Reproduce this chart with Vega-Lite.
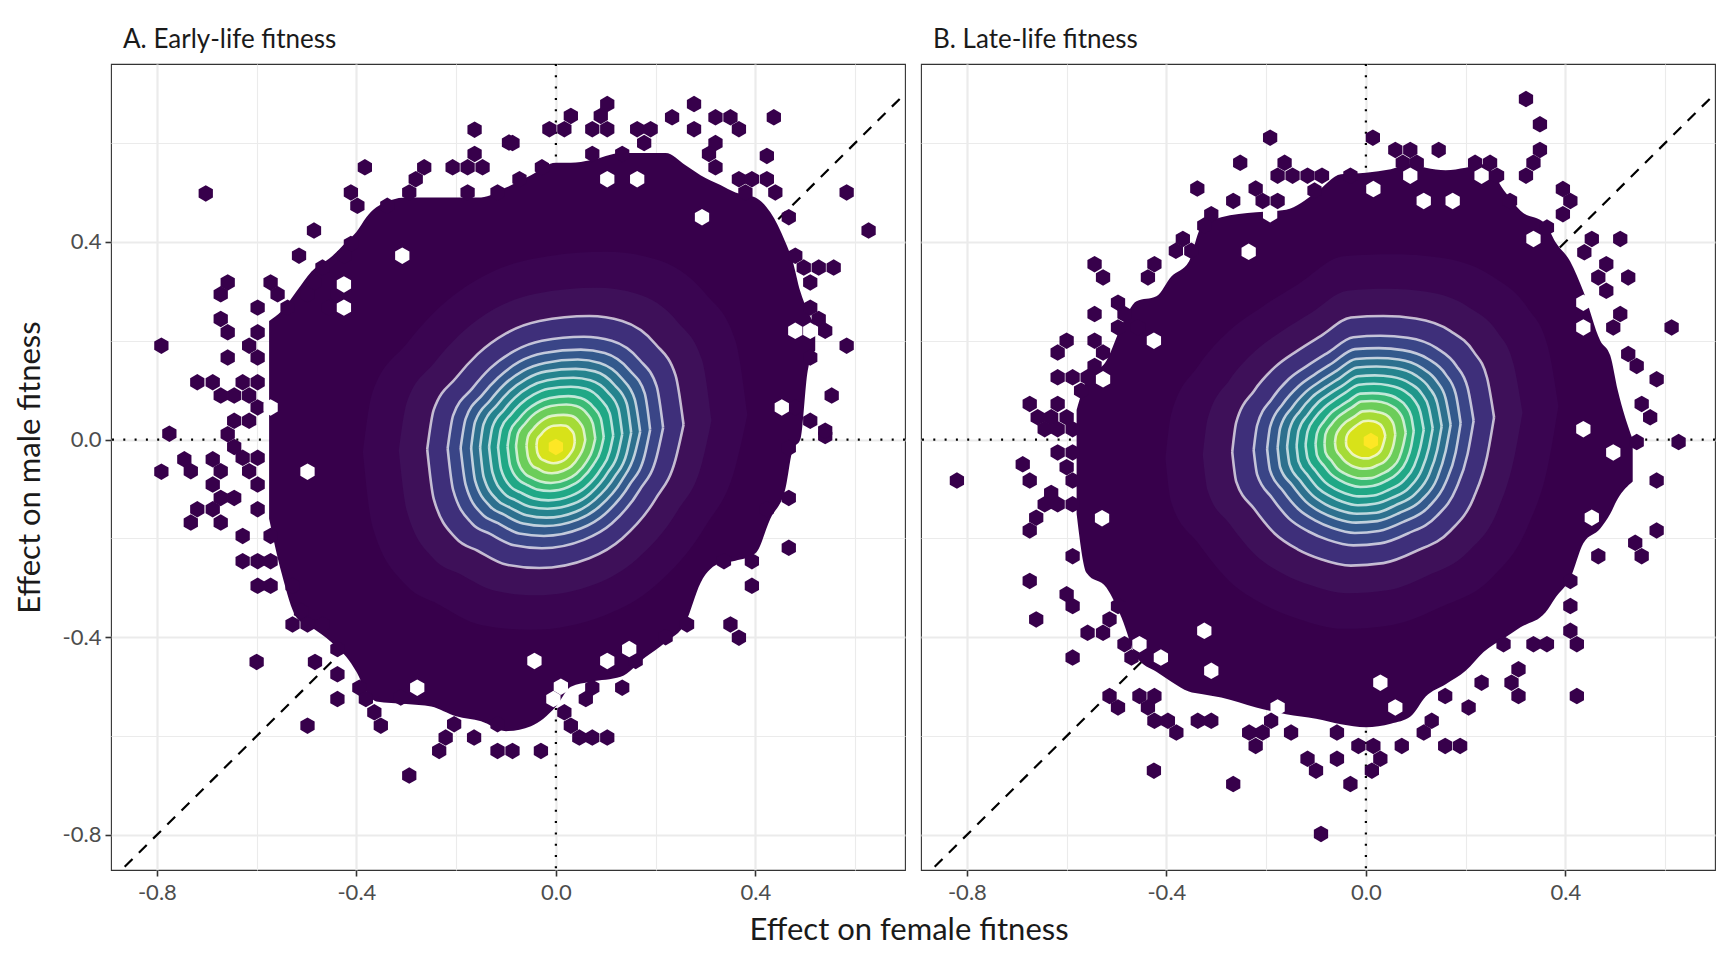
{
  "$schema": "https://vega.github.io/schema/vega-lite/v6.json",
  "background": "white",
  "padding": {"left": 13, "top": 26, "right": 13, "bottom": 5},
  "spacing": 12,
  "config": {
    "font": "Lato",
    "view": {"stroke": "#333333", "strokeWidth": 1.1},
    "title": {"font": "Lato", "fontSize": 26, "fontWeight": "normal", "color": "#1a1a1a"},
    "axis": {
      "domain": false,
      "grid": true,
      "tickCount": 8,
      "gridColor": "#ebebeb",
      "gridWidth": {"condition": {"test": "abs(round(datum.value * 10)) % 4 === 0", "value": 2.2}, "value": 1.1},
      "tickColor": "#333333",
      "tickOpacity": {"condition": {"test": "abs(round(datum.value * 10)) % 4 === 0", "value": 1}, "value": 0},
      "tickSize": 6,
      "tickWidth": 1.6,
      "labelExpr": "abs(round(datum.value * 10)) % 4 === 0 ? (datum.value < 0 ? '-' : '') + format(abs(datum.value), '.1f') : ''",
      "labelFont": "Lato",
      "labelFontSize": 22,
      "labelColor": "#4d4d4d",
      "labelPadding": 4,
      "titleFont": "Lato",
      "titleFontSize": 31,
      "titleFontWeight": "normal",
      "titleColor": "#1a1a1a",
      "titlePadding": 16
    },
    "axisX": {"labelPadding": 6}
  },
  "datasets": {
    "zero": [{"v": 0}],
    "diagonal": [{"from": -0.95, "to": 0.8}],
    "levels": [
      {"p": "A", "k": 0,
       "x": [-0.575,-0.55,-0.52,-0.49,-0.45,-0.42,-0.40,-0.38,-0.36,-0.30,-0.25,-0.20,-0.15,-0.10,-0.05,0.0,0.03,0.07,0.13,0.18,0.22,0.26,0.29,0.33,0.36,0.40,0.43,0.46,0.475,0.49,0.505,0.52],
       "lo": [-0.16,-0.27,-0.36,-0.38,-0.41,-0.44,-0.47,-0.51,-0.53,-0.535,-0.54,-0.56,-0.57,-0.59,-0.58,-0.54,-0.50,-0.49,-0.48,-0.44,-0.41,-0.37,-0.29,-0.25,-0.245,-0.23,-0.16,-0.10,-0.02,0.0,0.14,0.18],
       "hi": [0.24,0.26,0.30,0.34,0.37,0.40,0.42,0.45,0.47,0.49,0.49,0.49,0.49,0.51,0.535,0.56,0.56,0.565,0.58,0.58,0.58,0.555,0.535,0.515,0.50,0.49,0.46,0.40,0.36,0.30,0.26,0.23]},
      {"p": "A", "k": 1,
       "x": [-0.387,-0.368,-0.30,-0.236,-0.15,-0.05,0.10,0.20,0.30,0.36,0.384],
       "lo": [-0.025,-0.175,-0.295,-0.333,-0.375,-0.385,-0.355,-0.295,-0.175,-0.055,0.05],
       "hi": [-0.025,0.095,0.193,0.265,0.328,0.365,0.38,0.365,0.295,0.20,0.05]},
      {"p": "A", "k": 2,
       "x": [-0.315,-0.299,-0.244,-0.192,-0.122,-0.04,0.082,0.162,0.244,0.293,0.312],
       "lo": [-0.022,-0.144,-0.242,-0.272,-0.306,-0.315,-0.291,-0.242,-0.144,-0.047,0.039],
       "hi": [-0.022,0.075,0.155,0.213,0.265,0.295,0.307,0.295,0.238,0.161,0.039]},
      {"p": "A", "k": 3,
       "x": [-0.258,-0.245,-0.20,-0.157,-0.10,-0.033,0.067,0.133,0.20,0.24,0.256],
       "lo": [-0.02,-0.12,-0.20,-0.225,-0.253,-0.26,-0.24,-0.20,-0.12,-0.04,0.03],
       "hi": [-0.02,0.06,0.125,0.173,0.215,0.24,0.25,0.24,0.193,0.13,0.03]},
      {"p": "A", "k": 4,
       "x": [-0.217,-0.206,-0.168,-0.132,-0.084,-0.028,0.056,0.112,0.168,0.202,0.215],
       "lo": [-0.018,-0.102,-0.170,-0.191,-0.214,-0.22,-0.203,-0.170,-0.102,-0.035,0.024],
       "hi": [-0.018,0.049,0.103,0.144,0.179,0.20,0.208,0.20,0.161,0.108,0.024]},
      {"p": "A", "k": 5,
       "x": [-0.191,-0.181,-0.148,-0.116,-0.074,-0.024,0.050,0.098,0.148,0.178,0.189],
       "lo": [-0.017,-0.091,-0.151,-0.169,-0.190,-0.195,-0.180,-0.151,-0.091,-0.032,0.020],
       "hi": [-0.017,0.042,0.090,0.125,0.157,0.175,0.182,0.175,0.140,0.094,0.020]},
      {"p": "A", "k": 6,
       "x": [-0.170,-0.162,-0.132,-0.104,-0.066,-0.022,0.044,0.088,0.132,0.158,0.169],
       "lo": [-0.017,-0.083,-0.135,-0.152,-0.170,-0.175,-0.162,-0.135,-0.083,-0.030,0.016],
       "hi": [-0.017,0.036,0.079,0.111,0.139,0.155,0.162,0.155,0.124,0.082,0.016]},
      {"p": "A", "k": 7,
       "x": [-0.152,-0.145,-0.118,-0.093,-0.059,-0.019,0.040,0.078,0.118,0.142,0.151],
       "lo": [-0.016,-0.075,-0.122,-0.137,-0.153,-0.158,-0.146,-0.122,-0.075,-0.028,0.014],
       "hi": [-0.016,0.031,0.070,0.098,0.123,0.138,0.143,0.138,0.110,0.073,0.014]},
      {"p": "A", "k": 8,
       "x": [-0.134,-0.127,-0.104,-0.082,-0.052,-0.017,0.035,0.069,0.104,0.125,0.133],
       "lo": [-0.015,-0.067,-0.109,-0.122,-0.136,-0.140,-0.130,-0.109,-0.067,-0.026,0.011],
       "hi": [-0.015,0.026,0.060,0.085,0.107,0.120,0.125,0.120,0.096,0.063,0.011]},
      {"p": "A", "k": 9,
       "x": [-0.116,-0.110,-0.090,-0.071,-0.045,-0.015,0.030,0.060,0.090,0.108,0.115],
       "lo": [-0.015,-0.060,-0.096,-0.107,-0.119,-0.123,-0.114,-0.096,-0.060,-0.024,0.008],
       "hi": [-0.015,0.022,0.051,0.072,0.091,0.103,0.107,0.103,0.081,0.053,0.008]},
      {"p": "A", "k": 10,
       "x": [-0.097,-0.092,-0.075,-0.059,-0.038,-0.012,0.025,0.050,0.075,0.090,0.096],
       "lo": [-0.014,-0.051,-0.081,-0.091,-0.101,-0.104,-0.096,-0.081,-0.051,-0.021,0.005],
       "hi": [-0.014,0.016,0.041,0.059,0.074,0.084,0.088,0.084,0.066,0.043,0.005]},
      {"p": "A", "k": 11,
       "x": [-0.080,-0.076,-0.062,-0.049,-0.031,-0.010,0.021,0.041,0.062,0.074,0.079],
       "lo": [-0.013,-0.044,-0.069,-0.077,-0.085,-0.088,-0.081,-0.069,-0.044,-0.019,0.002],
       "hi": [-0.013,0.012,0.032,0.047,0.060,0.068,0.071,0.068,0.053,0.033,0.002]},
      {"p": "A", "k": 12,
       "x": [-0.059,-0.056,-0.046,-0.036,-0.023,-0.008,0.015,0.031,0.046,0.055,0.059],
       "lo": [-0.012,-0.035,-0.054,-0.059,-0.066,-0.068,-0.063,-0.054,-0.035,-0.017,-0.001],
       "hi": [-0.012,0.006,0.021,0.032,0.042,0.048,0.050,0.048,0.037,0.022,-0.001]},
      {"p": "A", "k": 13,
       "x": [-0.039,-0.037,-0.030,-0.024,-0.015,-0.005,0.010,0.020,0.030,0.036,0.038],
       "lo": [-0.012,-0.027,-0.039,-0.042,-0.046,-0.048,-0.045,-0.039,-0.027,-0.015,-0.004],
       "hi": [-0.012,0.001,0.010,0.017,0.024,0.028,0.029,0.028,0.020,0.011,-0.004]},
      {"p": "B", "k": 0,
       "x": [-0.58,-0.56,-0.52,-0.49,-0.46,-0.42,-0.39,-0.355,-0.33,-0.29,-0.22,-0.16,-0.10,-0.05,0.0,0.05,0.09,0.12,0.16,0.20,0.236,0.28,0.31,0.36,0.38,0.41,0.436,0.47,0.49,0.505,0.535],
       "lo": [-0.15,-0.27,-0.30,-0.36,-0.44,-0.47,-0.49,-0.51,-0.515,-0.522,-0.542,-0.556,-0.565,-0.576,-0.582,-0.575,-0.56,-0.52,-0.495,-0.468,-0.43,-0.40,-0.38,-0.35,-0.32,-0.28,-0.21,-0.18,-0.15,-0.12,-0.085],
       "hi": [0.06,0.12,0.16,0.23,0.28,0.29,0.33,0.36,0.43,0.45,0.46,0.465,0.50,0.537,0.54,0.547,0.557,0.55,0.545,0.55,0.557,0.50,0.463,0.436,0.40,0.36,0.30,0.20,0.17,0.10,0.0]},
      {"p": "B", "k": 1,
       "x": [-0.402,-0.39,-0.336,-0.275,-0.206,-0.135,-0.045,0.053,0.15,0.254,0.324,0.365,0.386],
       "lo": [-0.038,-0.128,-0.21,-0.285,-0.333,-0.363,-0.383,-0.375,-0.339,-0.278,-0.177,-0.053,0.068],
       "hi": [-0.038,0.053,0.149,0.219,0.27,0.315,0.371,0.375,0.368,0.33,0.267,0.188,0.068]},
      {"p": "B", "k": 2,
       "x": [-0.327,-0.317,-0.273,-0.223,-0.167,-0.110,-0.037,0.043,0.122,0.206,0.264,0.296,0.314],
       "lo": [-0.031,-0.104,-0.171,-0.232,-0.271,-0.295,-0.311,-0.305,-0.276,-0.226,-0.144,-0.043,0.055],
       "hi": [-0.031,0.043,0.121,0.178,0.220,0.256,0.301,0.305,0.299,0.268,0.217,0.153,0.055]},
      {"p": "B", "k": 3,
       "x": [-0.268,-0.26,-0.224,-0.183,-0.137,-0.09,-0.03,0.035,0.10,0.169,0.216,0.243,0.257],
       "lo": [-0.025,-0.085,-0.14,-0.19,-0.222,-0.242,-0.255,-0.25,-0.226,-0.185,-0.118,-0.035,0.045],
       "hi": [-0.025,0.035,0.099,0.146,0.18,0.21,0.247,0.25,0.245,0.22,0.178,0.125,0.045]},
      {"p": "B", "k": 4,
       "x": [-0.225,-0.218,-0.188,-0.154,-0.115,-0.076,-0.025,0.029,0.084,0.142,0.181,0.204,0.216],
       "lo": [-0.021,-0.071,-0.118,-0.160,-0.186,-0.203,-0.214,-0.21,-0.190,-0.155,-0.099,-0.029,0.038],
       "hi": [-0.021,0.029,0.083,0.123,0.151,0.176,0.207,0.21,0.206,0.185,0.150,0.105,0.038]},
      {"p": "B", "k": 5,
       "x": [-0.198,-0.192,-0.166,-0.135,-0.101,-0.067,-0.022,0.026,0.074,0.125,0.160,0.180,0.190],
       "lo": [-0.019,-0.063,-0.104,-0.141,-0.164,-0.179,-0.189,-0.185,-0.167,-0.137,-0.087,-0.026,0.033],
       "hi": [-0.019,0.026,0.073,0.108,0.133,0.155,0.183,0.185,0.181,0.163,0.132,0.093,0.033]},
      {"p": "B", "k": 6,
       "x": [-0.177,-0.172,-0.148,-0.121,-0.090,-0.059,-0.020,0.023,0.066,0.112,0.143,0.160,0.170],
       "lo": [-0.017,-0.056,-0.092,-0.125,-0.147,-0.160,-0.168,-0.165,-0.149,-0.122,-0.078,-0.023,0.030],
       "hi": [-0.017,0.023,0.065,0.096,0.119,0.139,0.163,0.165,0.162,0.145,0.117,0.083,0.030]},
      {"p": "B", "k": 7,
       "x": [-0.158,-0.153,-0.132,-0.108,-0.081,-0.053,-0.018,0.021,0.059,0.100,0.127,0.143,0.152],
       "lo": [-0.015,-0.050,-0.083,-0.112,-0.131,-0.143,-0.150,-0.148,-0.133,-0.109,-0.070,-0.021,0.027],
       "hi": [-0.015,0.021,0.058,0.086,0.106,0.124,0.146,0.148,0.145,0.130,0.105,0.074,0.027]},
      {"p": "B", "k": 8,
       "x": [-0.139,-0.135,-0.116,-0.095,-0.071,-0.047,-0.016,0.018,0.052,0.088,0.112,0.126,0.134],
       "lo": [-0.013,-0.044,-0.073,-0.099,-0.115,-0.126,-0.133,-0.130,-0.118,-0.096,-0.061,-0.018,0.023],
       "hi": [-0.013,0.018,0.051,0.076,0.094,0.109,0.128,0.130,0.127,0.114,0.093,0.065,0.023]},
      {"p": "B", "k": 9,
       "x": [-0.121,-0.117,-0.101,-0.082,-0.062,-0.041,-0.014,0.016,0.045,0.076,0.097,0.109,0.116],
       "lo": [-0.011,-0.038,-0.063,-0.086,-0.100,-0.109,-0.115,-0.113,-0.102,-0.083,-0.053,-0.016,0.020],
       "hi": [-0.011,0.016,0.045,0.066,0.081,0.095,0.111,0.113,0.110,0.099,0.080,0.056,0.020]},
      {"p": "B", "k": 10,
       "x": [-0.101,-0.098,-0.084,-0.069,-0.051,-0.034,-0.011,0.013,0.038,0.063,0.081,0.091,0.096],
       "lo": [-0.009,-0.032,-0.053,-0.071,-0.083,-0.091,-0.096,-0.094,-0.085,-0.069,-0.044,-0.013,0.017],
       "hi": [-0.009,0.013,0.037,0.055,0.068,0.079,0.093,0.094,0.092,0.083,0.067,0.047,0.017]},
      {"p": "B", "k": 11,
       "x": [-0.083,-0.081,-0.069,-0.057,-0.042,-0.028,-0.009,0.011,0.031,0.052,0.067,0.075,0.080],
       "lo": [-0.008,-0.026,-0.043,-0.059,-0.069,-0.075,-0.079,-0.078,-0.070,-0.057,-0.037,-0.011,0.014],
       "hi": [-0.008,0.011,0.031,0.045,0.056,0.065,0.077,0.078,0.076,0.068,0.055,0.039,0.014]},
      {"p": "B", "k": 12,
       "x": [-0.062,-0.060,-0.052,-0.042,-0.032,-0.021,-0.007,0.008,0.023,0.039,0.050,0.056,0.059],
       "lo": [-0.006,-0.020,-0.032,-0.044,-0.051,-0.056,-0.059,-0.058,-0.052,-0.043,-0.027,-0.008,0.010],
       "hi": [-0.006,0.008,0.023,0.034,0.041,0.048,0.057,0.058,0.056,0.051,0.041,0.029,0.010]},
      {"p": "B", "k": 13,
       "x": [-0.040,-0.039,-0.034,-0.027,-0.021,-0.014,-0.005,0.005,0.015,0.025,0.032,0.036,0.039],
       "lo": [-0.004,-0.013,-0.021,-0.029,-0.033,-0.036,-0.038,-0.038,-0.034,-0.028,-0.018,-0.005,0.007],
       "hi": [-0.004,0.005,0.015,0.022,0.027,0.032,0.037,0.038,0.037,0.033,0.027,0.019,0.007]}
    ],
    "cells": [
      {"p": "A", "c": "hex",
       "x": [-0.702,-0.163,-0.094,-0.383,-0.264,-0.207,-0.177,-0.147,-0.163,-0.281,-0.294,-0.177,-0.117,-0.411,-0.398,-0.338,-0.485,-0.515,-0.411,-0.424,-0.468,-0.485,-0.498,-0.438,-0.455,-0.658,-0.672,-0.572,-0.558,-0.598,-0.538,-0.672,-0.658,-0.598,-0.615,-0.598,-0.658,-0.791,-0.719,-0.688,-0.628,-0.598,-0.672,-0.645,-0.615,-0.598,-0.645,-0.615,-0.658,-0.775,-0.645,-0.745,-0.688,-0.628,-0.598,-0.732,-0.791,-0.672,-0.615,-0.688,-0.598,-0.672,-0.645,-0.719,-0.688,-0.598,-0.732,-0.672,-0.628,-0.572,-0.628,-0.598,-0.572,-0.598,-0.572,-0.528,-0.511,-0.528,-0.498,-0.468,-0.438,-0.6,-0.483,-0.438,-0.438,-0.394,-0.381,-0.364,-0.351,-0.498,-0.311,-0.204,-0.221,-0.234,-0.164,-0.117,-0.117,-0.294,0.54,0.467,0.467,0.423,0.467,0.393,0.337,0.393,0.35,0.367,0.263,0.22,0.16,0.133,0.073,0.06,0.017,0.03,0.047,0.073,0.103,-0.087,-0.03,-0.087,-0.013,0.017,0.03,0.103,0.09,0.073,0.103,0.163,0.19,0.177,0.233,0.277,0.277,0.32,0.35,0.367,0.32,0.307,0.32,0.437,0.423,0.073,0.133,-0.028,-0.073,0.367,0.393,0.423,0.38,0.44,0.583,0.467,0.627,0.48,0.497,0.527,0.557,0.51,0.51,0.527,0.54,0.583,0.51,0.553,0.48,0.51,0.54],
       "y": [0.498,0.627,0.601,0.551,0.551,0.551,0.551,0.551,0.578,0.527,0.5,0.5,0.5,0.5,0.473,0.473,0.423,0.372,0.396,0.372,0.348,0.318,0.294,0.294,0.267,0.318,0.294,0.318,0.294,0.267,0.267,0.244,0.217,0.217,0.19,0.166,0.166,0.19,0.116,0.116,0.116,0.116,0.089,0.089,0.089,0.065,0.038,0.038,0.011,0.012,-0.015,-0.04,-0.04,-0.037,-0.037,-0.064,-0.065,-0.064,-0.064,-0.091,-0.091,-0.118,-0.118,-0.141,-0.141,-0.141,-0.168,-0.168,-0.195,-0.195,-0.246,-0.246,-0.246,-0.296,-0.296,-0.296,-0.347,-0.374,-0.374,-0.374,-0.424,-0.45,-0.45,-0.475,-0.525,-0.502,-0.525,-0.552,-0.579,-0.579,-0.522,-0.576,-0.603,-0.63,-0.603,-0.576,-0.63,-0.68,0.007,-0.017,-0.118,-0.141,-0.219,-0.246,-0.246,-0.296,-0.374,-0.401,-0.374,-0.4,-0.448,-0.502,-0.502,-0.525,-0.552,-0.579,-0.603,-0.603,-0.603,-0.63,-0.63,0.6,0.628,0.628,0.655,0.679,0.655,0.628,0.628,0.628,0.628,0.6,0.652,0.679,0.628,0.652,0.652,0.628,0.6,0.578,0.551,0.652,0.574,0.578,0.578,0.551,0.527,0.527,0.527,0.527,0.5,0.5,0.5,0.45,0.423,0.372,0.348,0.348,0.348,0.318,0.267,0.244,0.22,0.19,0.166,0.089,0.065,0.038,0.018]},
      {"p": "A", "c": "gap",
       "x": [-0.308,-0.425,-0.425,-0.572,-0.498,-0.278,0.293,0.48,0.51,0.453,0.103,0.163,-0.043,0.103,0.147,0.01,-0.005],
       "y": [0.372,0.314,0.267,0.065,-0.065,-0.502,0.45,0.22,0.22,0.065,0.527,0.527,-0.448,-0.448,-0.424,-0.5,-0.525]},
      {"p": "A", "c": "peak", "x": [0.0], "y": [-0.015]},
      {"p": "B", "c": "hex",
       "x": [-0.192,-0.252,-0.163,-0.177,-0.147,-0.117,-0.338,-0.221,-0.266,-0.207,-0.177,-0.103,-0.31,-0.324,-0.367,-0.381,-0.35,-0.424,-0.437,-0.544,-0.527,-0.497,-0.484,-0.544,-0.497,-0.457,-0.6,-0.618,-0.544,-0.527,-0.544,-0.618,-0.588,-0.558,-0.571,-0.674,-0.618,-0.658,-0.631,-0.6,-0.644,-0.618,-0.588,-0.618,-0.588,-0.688,-0.82,-0.674,-0.6,-0.588,-0.631,-0.644,-0.618,-0.588,-0.661,-0.674,-0.588,-0.674,-0.6,-0.588,-0.661,-0.514,-0.497,-0.558,-0.527,-0.588,-0.484,-0.47,-0.514,-0.497,-0.454,-0.424,-0.437,-0.424,-0.397,-0.38,-0.337,-0.31,-0.234,-0.207,-0.221,-0.19,-0.15,-0.117,-0.1,-0.425,-0.266,-0.09,0.627,0.543,0.583,0.583,0.54,0.553,0.466,0.41,0.41,0.41,0.423,0.276,0.336,0.363,0.306,0.292,0.306,0.423,0.206,0.232,0.159,0.132,0.116,0.072,0.159,0.189,-0.015,0.015,0.029,0.012,-0.058,-0.058,-0.031,0.321,0.349,0.349,0.336,0.321,0.014,0.059,0.089,0.146,0.074,0.102,0.219,0.249,0.263,-0.088,-0.031,0.395,0.41,0.395,0.289,0.363,0.453,0.51,0.438,0.482,0.526,0.466,0.482,0.51,0.496,0.613,0.526,0.543,0.583,0.553,0.57],
       "y": [0.611,0.56,0.56,0.534,0.534,0.534,0.508,0.508,0.483,0.483,0.483,0.504,0.456,0.433,0.406,0.382,0.382,0.355,0.328,0.355,0.328,0.277,0.254,0.254,0.227,0.227,0.2,0.176,0.2,0.176,0.149,0.126,0.126,0.126,0.099,0.072,0.072,0.045,0.045,0.045,0.021,0.021,0.021,-0.026,-0.026,-0.05,-0.083,-0.083,-0.056,-0.083,-0.108,-0.131,-0.131,-0.131,-0.158,-0.184,-0.236,-0.286,-0.313,-0.337,-0.364,-0.364,-0.337,-0.391,-0.391,-0.441,-0.414,-0.441,-0.519,-0.542,-0.519,-0.519,-0.542,-0.569,-0.569,-0.593,-0.569,-0.569,-0.593,-0.593,-0.62,-0.569,-0.593,-0.646,-0.67,-0.67,-0.697,-0.798,-0.005,-0.005,-0.083,-0.184,-0.209,-0.236,-0.236,-0.286,-0.337,-0.387,-0.414,-0.414,-0.414,-0.414,-0.465,-0.492,-0.519,-0.519,-0.542,-0.492,-0.519,-0.569,-0.593,-0.62,-0.62,-0.62,-0.62,-0.62,-0.646,-0.67,-0.646,-0.593,-0.697,0.689,0.638,0.586,0.56,0.534,0.611,0.586,0.586,0.586,0.56,0.56,0.56,0.56,0.534,0.534,0.534,0.507,0.483,0.456,0.483,0.429,0.406,0.406,0.379,0.355,0.328,0.328,0.301,0.254,0.227,0.227,0.173,0.149,0.122,0.072,0.045]},
      {"p": "B", "c": "gap",
       "x": [0.089,0.232,0.015,0.116,0.174,0.336,0.436,0.436,0.436,0.496,-0.192,-0.235,-0.425,-0.527,-0.529,-0.324,-0.411,-0.454,-0.31,-0.324,-0.177,0.029,0.059,0.453],
       "y": [0.534,0.534,0.507,0.483,0.483,0.406,0.277,0.227,0.021,-0.026,0.456,0.38,0.2,0.122,-0.159,-0.387,-0.441,-0.414,-0.468,-0.542,-0.542,-0.492,-0.542,-0.158]},
      {"p": "B", "c": "peak", "x": [0.01], "y": [-0.003]}
    ]
  },
  "title": {"text": "Effect on female fitness", "orient": "bottom", "anchor": "middle", "fontSize": 31, "fontWeight": "normal", "color": "#1a1a1a", "offset": 12, "dx": 44},
  "hconcat": [
    {
      "width": 794,
      "height": 806,
      "title": {"text": "A. Early-life fitness", "anchor": "start", "frame": "group", "dx": 12, "offset": 10},
      "layer": [
        {
          "data": {"name": "zero"},
          "mark": {"type": "rule", "color": "black", "strokeWidth": 2.2, "strokeDash": [2, 9.3]},
          "encoding": {
            "x": {"field": "v", "type": "quantitative", "scale": {"domain": [-0.892, 0.7], "nice": false, "zero": false}, "title": null}
          }
        },
        {
          "data": {"name": "zero"},
          "mark": {"type": "rule", "color": "black", "strokeWidth": 2.2, "strokeDash": [2, 9.3]},
          "encoding": {
            "y": {"field": "v", "type": "quantitative", "scale": {"domain": [-0.871, 0.76], "nice": false, "zero": false}, "title": "Effect on male fitness"}
          }
        },
        {
          "data": {"name": "diagonal"},
          "mark": {"type": "rule", "color": "black", "strokeWidth": 2.2, "strokeDash": [11, 9], "clip": true},
          "encoding": {
            "x": {"field": "from", "type": "quantitative", "scale": {"domain": [-0.892, 0.7], "nice": false, "zero": false}, "title": null},
            "y": {"field": "from", "type": "quantitative", "scale": {"domain": [-0.871, 0.76], "nice": false, "zero": false}, "title": "Effect on male fitness"},
            "x2": {"field": "to"},
            "y2": {"field": "to"}
          }
        },
        {
          "data": {"name": "levels"},
          "transform": [{"filter": "datum.p === 'A'"}, {"flatten": ["x", "lo", "hi"]}],
          "mark": {"type": "area", "interpolate": "monotone", "opacity": 1},
          "encoding": {
            "x": {"field": "x", "type": "quantitative", "scale": {"domain": [-0.892, 0.7], "nice": false, "zero": false}, "title": null},
            "y": {"field": "lo", "type": "quantitative", "scale": {"domain": [-0.871, 0.76], "nice": false, "zero": false}, "title": "Effect on male fitness"},
            "y2": {"field": "hi"},
            "color": {"field": "k", "type": "ordinal", "legend": null,
              "scale": {"domain": [0,1,2,3,4,5,6,7,8,9,10,11,12,13],
                "range": ["#37004b","#3a0551","#3e1059","#3e2f7a","#3a4587","#33598c","#2d708e","#25838e","#1f968b","#20a886","#3bbb75","#6ccd5a","#a5db36","#d8e219"]}}
          }
        },
        {
          "data": {"name": "cells"},
          "transform": [{"filter": "datum.p === 'A' && datum.c === 'hex'"}, {"flatten": ["x", "y"]}],
          "mark": {"type": "point", "shape": "M0,-1L0.866,-0.5L0.866,0.5L0,1L-0.866,0.5L-0.866,-0.5Z", "filled": true, "size": 272, "color": "#37004b", "opacity": 1},
          "encoding": {
            "x": {"field": "x", "type": "quantitative", "scale": {"domain": [-0.892, 0.7], "nice": false, "zero": false}, "title": null},
            "y": {"field": "y", "type": "quantitative", "scale": {"domain": [-0.871, 0.76], "nice": false, "zero": false}, "title": "Effect on male fitness"}
          }
        },
        {
          "data": {"name": "cells"},
          "transform": [{"filter": "datum.p === 'A' && datum.c === 'gap'"}, {"flatten": ["x", "y"]}],
          "mark": {"type": "point", "shape": "M0,-1L0.866,-0.5L0.866,0.5L0,1L-0.866,0.5L-0.866,-0.5Z", "filled": true, "size": 272, "color": "white", "opacity": 1},
          "encoding": {
            "x": {"field": "x", "type": "quantitative", "scale": {"domain": [-0.892, 0.7], "nice": false, "zero": false}, "title": null},
            "y": {"field": "y", "type": "quantitative", "scale": {"domain": [-0.871, 0.76], "nice": false, "zero": false}, "title": "Effect on male fitness"}
          }
        },
        {
          "data": {"name": "cells"},
          "transform": [{"filter": "datum.p === 'A' && datum.c === 'peak'"}, {"flatten": ["x", "y"]}],
          "mark": {"type": "point", "shape": "M0,-1L0.866,-0.5L0.866,0.5L0,1L-0.866,0.5L-0.866,-0.5Z", "filled": true, "size": 272, "color": "#fde725", "opacity": 1},
          "encoding": {
            "x": {"field": "x", "type": "quantitative", "scale": {"domain": [-0.892, 0.7], "nice": false, "zero": false}, "title": null},
            "y": {"field": "y", "type": "quantitative", "scale": {"domain": [-0.871, 0.76], "nice": false, "zero": false}, "title": "Effect on male fitness"}
          }
        },
        {
          "data": {"name": "levels"},
          "transform": [{"filter": "datum.p === 'A' && datum.k >= 3"}, {"flatten": ["x", "lo", "hi"]}],
          "mark": {"type": "line", "interpolate": "monotone", "color": "white", "opacity": 0.7, "strokeWidth": 2.6},
          "encoding": {
            "x": {"field": "x", "type": "quantitative", "scale": {"domain": [-0.892, 0.7], "nice": false, "zero": false}, "title": null},
            "y": {"field": "hi", "type": "quantitative", "scale": {"domain": [-0.871, 0.76], "nice": false, "zero": false}, "title": "Effect on male fitness"},
            "detail": {"field": "k", "type": "nominal"}
          }
        },
        {
          "data": {"name": "levels"},
          "transform": [{"filter": "datum.p === 'A' && datum.k >= 3"}, {"flatten": ["x", "lo", "hi"]}],
          "mark": {"type": "line", "interpolate": "monotone", "color": "white", "opacity": 0.7, "strokeWidth": 2.6},
          "encoding": {
            "x": {"field": "x", "type": "quantitative", "scale": {"domain": [-0.892, 0.7], "nice": false, "zero": false}, "title": null},
            "y": {"field": "lo", "type": "quantitative", "scale": {"domain": [-0.871, 0.76], "nice": false, "zero": false}, "title": "Effect on male fitness"},
            "detail": {"field": "k", "type": "nominal"}
          }
        }
      ]
    },
    {
      "width": 794,
      "height": 806,
      "title": {"text": "B. Late-life fitness", "anchor": "start", "frame": "group", "dx": 12, "offset": 10},
      "layer": [
        {
          "data": {"name": "zero"},
          "mark": {"type": "rule", "color": "black", "strokeWidth": 2.2, "strokeDash": [2, 9.3]},
          "encoding": {
            "x": {"field": "v", "type": "quantitative", "scale": {"domain": [-0.892, 0.7], "nice": false, "zero": false}, "title": null}
          }
        },
        {
          "data": {"name": "zero"},
          "mark": {"type": "rule", "color": "black", "strokeWidth": 2.2, "strokeDash": [2, 9.3]},
          "encoding": {
            "y": {"field": "v", "type": "quantitative", "scale": {"domain": [-0.871, 0.76], "nice": false, "zero": false}, "title": null, "axis": {"labels": false, "ticks": false}}
          }
        },
        {
          "data": {"name": "diagonal"},
          "mark": {"type": "rule", "color": "black", "strokeWidth": 2.2, "strokeDash": [11, 9], "clip": true},
          "encoding": {
            "x": {"field": "from", "type": "quantitative", "scale": {"domain": [-0.892, 0.7], "nice": false, "zero": false}, "title": null},
            "y": {"field": "from", "type": "quantitative", "scale": {"domain": [-0.871, 0.76], "nice": false, "zero": false}, "title": null, "axis": {"labels": false, "ticks": false}},
            "x2": {"field": "to"},
            "y2": {"field": "to"}
          }
        },
        {
          "data": {"name": "levels"},
          "transform": [{"filter": "datum.p === 'B'"}, {"flatten": ["x", "lo", "hi"]}],
          "mark": {"type": "area", "interpolate": "monotone", "opacity": 1},
          "encoding": {
            "x": {"field": "x", "type": "quantitative", "scale": {"domain": [-0.892, 0.7], "nice": false, "zero": false}, "title": null},
            "y": {"field": "lo", "type": "quantitative", "scale": {"domain": [-0.871, 0.76], "nice": false, "zero": false}, "title": null, "axis": {"labels": false, "ticks": false}},
            "y2": {"field": "hi"},
            "color": {"field": "k", "type": "ordinal", "legend": null,
              "scale": {"domain": [0,1,2,3,4,5,6,7,8,9,10,11,12,13],
                "range": ["#37004b","#3a0551","#3e1059","#3e2f7a","#3a4587","#33598c","#2d708e","#25838e","#1f968b","#20a886","#3bbb75","#6ccd5a","#a5db36","#d8e219"]}}
          }
        },
        {
          "data": {"name": "cells"},
          "transform": [{"filter": "datum.p === 'B' && datum.c === 'hex'"}, {"flatten": ["x", "y"]}],
          "mark": {"type": "point", "shape": "M0,-1L0.866,-0.5L0.866,0.5L0,1L-0.866,0.5L-0.866,-0.5Z", "filled": true, "size": 272, "color": "#37004b", "opacity": 1},
          "encoding": {
            "x": {"field": "x", "type": "quantitative", "scale": {"domain": [-0.892, 0.7], "nice": false, "zero": false}, "title": null},
            "y": {"field": "y", "type": "quantitative", "scale": {"domain": [-0.871, 0.76], "nice": false, "zero": false}, "title": null, "axis": {"labels": false, "ticks": false}}
          }
        },
        {
          "data": {"name": "cells"},
          "transform": [{"filter": "datum.p === 'B' && datum.c === 'gap'"}, {"flatten": ["x", "y"]}],
          "mark": {"type": "point", "shape": "M0,-1L0.866,-0.5L0.866,0.5L0,1L-0.866,0.5L-0.866,-0.5Z", "filled": true, "size": 272, "color": "white", "opacity": 1},
          "encoding": {
            "x": {"field": "x", "type": "quantitative", "scale": {"domain": [-0.892, 0.7], "nice": false, "zero": false}, "title": null},
            "y": {"field": "y", "type": "quantitative", "scale": {"domain": [-0.871, 0.76], "nice": false, "zero": false}, "title": null, "axis": {"labels": false, "ticks": false}}
          }
        },
        {
          "data": {"name": "cells"},
          "transform": [{"filter": "datum.p === 'B' && datum.c === 'peak'"}, {"flatten": ["x", "y"]}],
          "mark": {"type": "point", "shape": "M0,-1L0.866,-0.5L0.866,0.5L0,1L-0.866,0.5L-0.866,-0.5Z", "filled": true, "size": 272, "color": "#fde725", "opacity": 1},
          "encoding": {
            "x": {"field": "x", "type": "quantitative", "scale": {"domain": [-0.892, 0.7], "nice": false, "zero": false}, "title": null},
            "y": {"field": "y", "type": "quantitative", "scale": {"domain": [-0.871, 0.76], "nice": false, "zero": false}, "title": null, "axis": {"labels": false, "ticks": false}}
          }
        },
        {
          "data": {"name": "levels"},
          "transform": [{"filter": "datum.p === 'B' && datum.k >= 3"}, {"flatten": ["x", "lo", "hi"]}],
          "mark": {"type": "line", "interpolate": "monotone", "color": "white", "opacity": 0.7, "strokeWidth": 2.6},
          "encoding": {
            "x": {"field": "x", "type": "quantitative", "scale": {"domain": [-0.892, 0.7], "nice": false, "zero": false}, "title": null},
            "y": {"field": "hi", "type": "quantitative", "scale": {"domain": [-0.871, 0.76], "nice": false, "zero": false}, "title": null, "axis": {"labels": false, "ticks": false}},
            "detail": {"field": "k", "type": "nominal"}
          }
        },
        {
          "data": {"name": "levels"},
          "transform": [{"filter": "datum.p === 'B' && datum.k >= 3"}, {"flatten": ["x", "lo", "hi"]}],
          "mark": {"type": "line", "interpolate": "monotone", "color": "white", "opacity": 0.7, "strokeWidth": 2.6},
          "encoding": {
            "x": {"field": "x", "type": "quantitative", "scale": {"domain": [-0.892, 0.7], "nice": false, "zero": false}, "title": null},
            "y": {"field": "lo", "type": "quantitative", "scale": {"domain": [-0.871, 0.76], "nice": false, "zero": false}, "title": null, "axis": {"labels": false, "ticks": false}},
            "detail": {"field": "k", "type": "nominal"}
          }
        }
      ]
    }
  ]
}
